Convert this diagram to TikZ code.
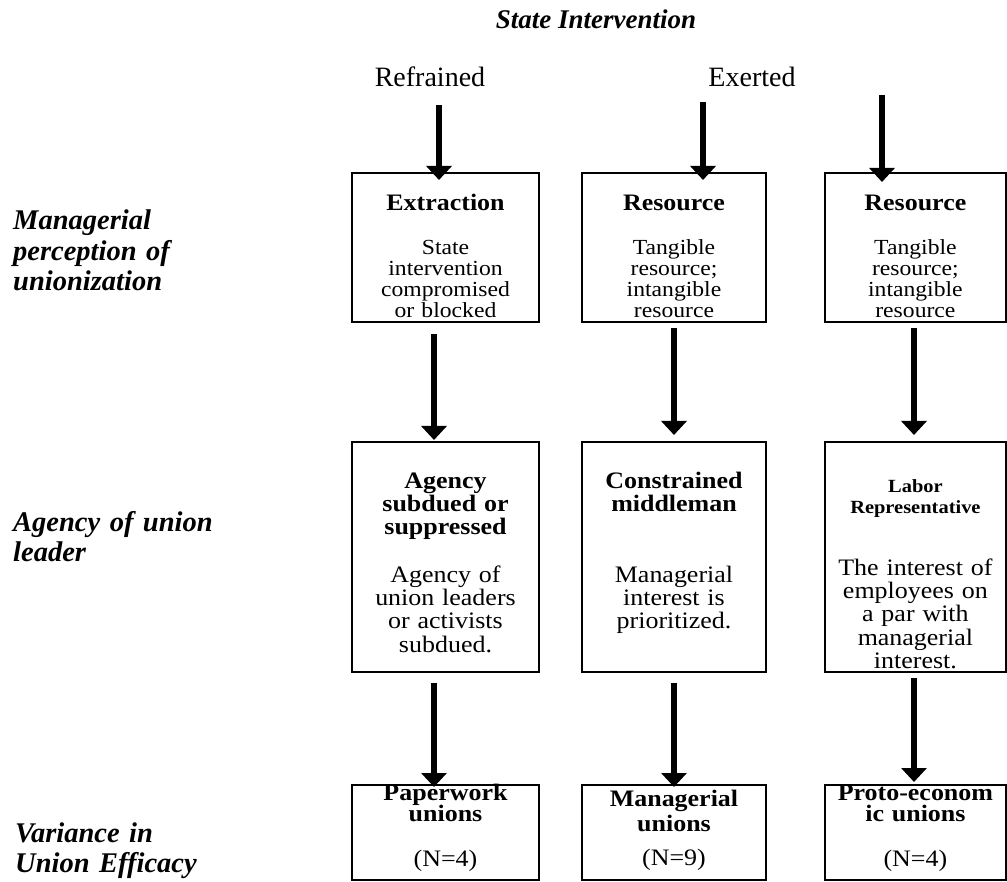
\documentclass[tikz,border=0pt]{standalone}
\usepackage{fontspec}
\setmainfont{Liberation Serif}
\newfontfamily\boxfont[FakeStretch=1.1]{Liberation Serif}
\usetikzlibrary{arrows.meta}

\begin{document}
\begin{tikzpicture}[x=1pt,y=-1pt,
  box/.style={draw=black, line width=2.2pt, inner sep=0pt, outer sep=0pt},
  flow/.style={line width=5.5pt, -{Triangle[width=25pt,length=14pt]}},
  txt/.style={anchor=base, inner sep=0pt, text width=200pt, align=center},
  title/.style={txt, font=\boxfont\fontsize{23.6}{23}\selectfont\bfseries},
  smalltitle/.style={txt, font=\boxfont\fontsize{18.6}{21.5}\selectfont\bfseries},
  bodyA/.style={txt, font=\boxfont\fontsize{21.5}{20.7}\selectfont},
  bodyB/.style={txt, font=\boxfont\fontsize{23.6}{23.4}\selectfont},
  rowlabel/.style={anchor=base west, inner sep=0pt, text width=300pt, align=left,
    font=\fontsize{28.5}{30.5}\selectfont\bfseries\itshape},
  colhead/.style={anchor=base, inner sep=0pt, font=\fontsize{28}{30}\selectfont}
]
\useasboundingbox (0,0) rectangle (1007,882);

% ---- headings ----
\node[anchor=base, inner sep=0pt, font=\fontsize{27}{30}\selectfont\bfseries\itshape]
  (state) at (596,29) {State Intervention};
\node[colhead] (refr) at (430,87) {Refrained};
\node[colhead] (exer) at (752,87) {Exerted};

% ---- row labels ----
\node[rowlabel] (lab1) at (13,230) {Managerial\\perception of\\unionization};
\node[rowlabel] (lab2) at (13,531) {Agency of union\\leader};
\node[rowlabel] (lab3) at (15,842) {Variance in\\Union Efficacy};

% ---- boxes: managerial perception ----
\node[box, minimum width=187pt, minimum height=149pt] (ext)  at (445.5,247.5) {};
\node[box, minimum width=184pt, minimum height=149pt] (resB) at (674,247.5) {};
\node[box, minimum width=180.8pt, minimum height=149pt] (resC) at (915.4,247.5) {};

% ---- boxes: agency of union leader ----
\node[box, minimum width=187pt, minimum height=230pt] (agency) at (445.5,557) {};
\node[box, minimum width=184pt, minimum height=230pt] (middle) at (674,557) {};
\node[box, minimum width=180.8pt, minimum height=230pt] (labor)  at (915.4,557) {};

% ---- boxes: union efficacy ----
\node[box, minimum width=187pt, minimum height=95pt] (paper) at (445.5,832.5) {};
\node[box, minimum width=184pt, minimum height=95pt] (manag) at (674,832.5) {};
\node[box, minimum width=180.8pt, minimum height=95pt] (proto) at (915.4,832.5) {};

% ---- texts, row 1 ----
\node[title] (t1a) at (445.5,211) {Extraction};
\node[bodyA] (b1a) at (445.5,255) {State\\intervention\\compromised\\or blocked};
\node[title] (t1b) at (674,211) {Resource};
\node[bodyA] (b1b) at (674,255) {Tangible\\resource;\\intangible\\resource};
\node[title] (t1c) at (915.4,211) {Resource};
\node[bodyA] (b1c) at (915.4,255) {Tangible\\resource;\\intangible\\resource};

% ---- texts, row 2 ----
\node[title] (t2a) at (445.5,489) {Agency\\subdued or\\suppressed};
\node[bodyB] (b2a) at (445.5,582) {Agency of\\union leaders\\or activists\\subdued.};
\node[title] (t2b) at (674,489) {Constrained\\middleman};
\node[bodyB] (b2b) at (674,582) {Managerial\\interest is\\prioritized.};
\node[smalltitle] (t2c) at (915.4,492) {Labor\\Representative};
\node[bodyB] (b2c) at (915.4,575) {The interest of\\employees on\\a par with\\managerial\\interest.};

% ---- texts, row 3 ----
\node[title, font=\boxfont\fontsize{23.6}{21.8}\selectfont\bfseries] (t3a) at (445.5,800) {Paperwork\\unions};
\node[bodyB] (n3a) at (445.5,866) {(N=4)};
\node[title, font=\boxfont\fontsize{23.6}{25}\selectfont\bfseries] (t3b) at (674,806) {Managerial\\unions};
\node[bodyB] (n3b) at (674,865) {(N=9)};
\node[title, font=\boxfont\fontsize{23.6}{21.8}\selectfont\bfseries] (t3c) at (915.4,800) {Proto-econom\\ic unions};
\node[bodyB] (n3c) at (915.4,866) {(N=4)};

% ---- arrows from the state-intervention headings ----
\coordinate (sA) at (439,105);
\coordinate (sB) at (703,102);
\coordinate (sC) at (882,95);
\draw[flow, shorten >=-7pt] (sA) -- (sA |- ext.north);
\draw[flow, shorten >=-7pt] (sB) -- (sB |- resB.north);
\draw[flow, shorten >=-9pt] (sC) -- (sC |- resC.north);

% ---- arrows: perception -> agency ----
\draw[flow] ([xshift=-11.5pt,yshift=-12pt]ext.south) -- ([xshift=-11.5pt,yshift=2pt]agency.north);
\draw[flow] ([yshift=-6pt]resB.south) -- ([yshift=7pt]middle.north);
\draw[flow] ([xshift=-1.4pt,yshift=-6pt]resC.south) -- ([xshift=-1.4pt,yshift=7pt]labor.north);

% ---- arrows: agency -> efficacy ----
\draw[flow] ([xshift=-11.5pt,yshift=-11pt]agency.south) -- ([xshift=-11.5pt,yshift=-2pt]paper.north);
\draw[flow] ([yshift=-11pt]middle.south) -- ([yshift=-2pt]manag.north);
\draw[flow] ([xshift=-1.4pt,yshift=-6pt]labor.south) -- ([xshift=-1.4pt,yshift=3pt]proto.north);
\end{tikzpicture}
\end{document}
